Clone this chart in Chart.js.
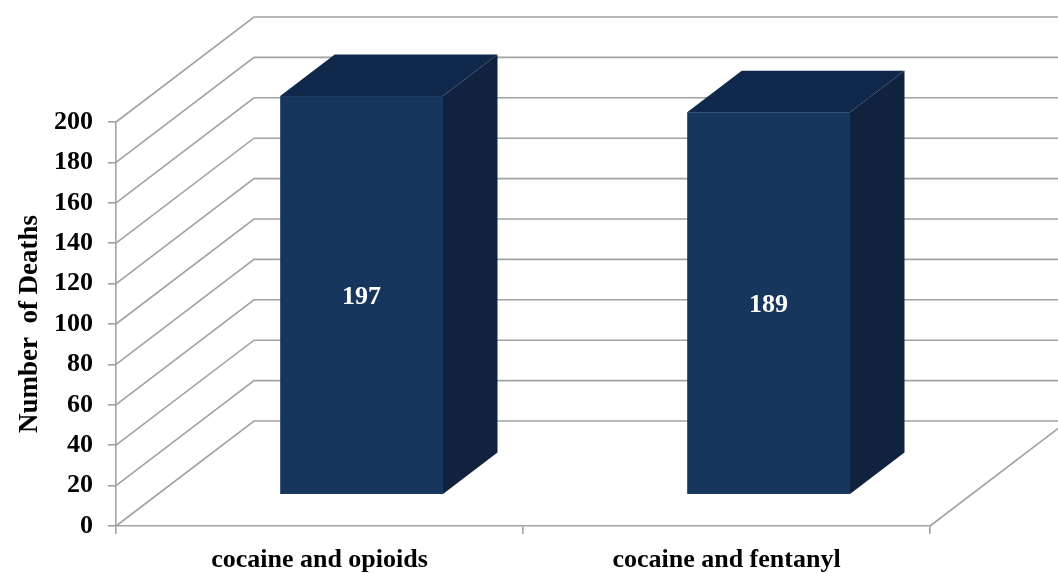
<!DOCTYPE html>
<html>
<head>
<meta charset="utf-8">
<script src="https://cdn.jsdelivr.net/npm/chart.js@4.4.1/dist/chart.umd.min.js"></script>
<style>
  html, body { margin: 0; padding: 0; background: #fff; }
  #wrap { width: 1058px; height: 573px; }
</style>
</head>
<body>
<div id="wrap"><canvas id="deathsChart" width="1058" height="573"></canvas></div>
<script>
// Data
const categories = ["cocaine and opioids", "cocaine and fentanyl"];
const deaths = [197, 189];
const yTicks = [0, 20, 40, 60, 80, 100, 120, 140, 160, 180, 200];

// Fake 3D look (Excel style): how far the back wall sits from the front plane
const DEPTH_X = 138, DEPTH_Y = 105;
const BAR_FRONT = 0.305, BAR_BACK = 0.70;   // bar depth as fraction of floor depth

const gridGray = "#a2a2a2";
const frontColor = "#17365d", sideColor = "#10223d", topColor = "#10284b";
const serif = "'Liberation Serif', 'Times New Roman', serif";

function fillPoly(ctx, pts, color) {
  ctx.beginPath();
  ctx.moveTo(pts[0][0], pts[0][1]);
  pts.slice(1).forEach(p => ctx.lineTo(p[0], p[1]));
  ctx.closePath();
  ctx.fillStyle = color;
  ctx.fill();
}

const walls3d = {
  id: "walls3d",
  // side wall + back wall gridlines, floor edge
  beforeDatasetsDraw(chart) {
    const { ctx, chartArea: a, scales: { y } } = chart;
    ctx.save();
    ctx.strokeStyle = gridGray;
    ctx.lineWidth = 1.6;
    yTicks.forEach(v => {
      const py = y.getPixelForValue(v);
      ctx.beginPath();
      ctx.moveTo(a.left, py);
      ctx.lineTo(a.left + DEPTH_X, py - DEPTH_Y);
      ctx.lineTo(a.right + DEPTH_X, py - DEPTH_Y);
      ctx.stroke();
    });
    const p0 = y.getPixelForValue(0);
    ctx.beginPath();
    ctx.moveTo(a.right, p0);
    ctx.lineTo(a.right + DEPTH_X, p0 - DEPTH_Y);
    ctx.stroke();
    ctx.restore();
  },
  // bars as boxes, using the bar elements chart.js laid out
  afterDatasetsDraw(chart) {
    const { ctx, scales: { y } } = chart;
    const meta = chart.getDatasetMeta(0);
    const base = y.getPixelForValue(0);
    const fx = DEPTH_X * BAR_FRONT, fy = DEPTH_Y * BAR_FRONT;
    const sx = DEPTH_X * (BAR_BACK - BAR_FRONT), sy = DEPTH_Y * (BAR_BACK - BAR_FRONT);
    ctx.save();
    meta.data.forEach((bar, i) => {
      const l = bar.x - bar.width / 2 + fx, r = bar.x + bar.width / 2 + fx;
      const t = y.getPixelForValue(deaths[i]) - fy, b = base - fy;
      fillPoly(ctx, [[r, t], [r + sx, t - sy], [r + sx, b - sy], [r, b]], sideColor);
      fillPoly(ctx, [[l, t], [l + sx, t - sy], [r + sx, t - sy], [r, t]], topColor);
      ctx.fillStyle = frontColor;
      ctx.fillRect(l, t, r - l, b - t);

      ctx.fillStyle = "#fff";
      ctx.font = `bold 26px ${serif}`;
      ctx.textAlign = "center";
      ctx.textBaseline = "middle";
      ctx.fillText(String(deaths[i]), (l + r) / 2, (t + b) / 2 + 2);
    });
    ctx.restore();
  }
};

new Chart(document.getElementById("deathsChart"), {
  type: "bar",
  data: {
    labels: categories,
    datasets: [{
      label: "Number of Deaths",
      data: deaths,
      backgroundColor: "rgba(0,0,0,0)",
      barPercentage: 0.4,
      categoryPercentage: 1.0
    }]
  },
  options: {
    responsive: false,
    animation: false,
    devicePixelRatio: 1,
    layout: { padding: { top: 122, right: 128, left: 0, bottom: 0 } },
    plugins: { legend: { display: false }, tooltip: { enabled: false } },
    scales: {
      x: {
        grid: { drawOnChartArea: false, tickLength: 8, color: gridGray, lineWidth: 1.6 },
        border: { color: gridGray, width: 1.6 },
        ticks: { color: "#000", padding: 11, font: { family: serif, size: 26, weight: "bold" } },
        afterFit: s => { s.height = 47; }
      },
      y: {
        min: 0,
        max: 200,
        afterBuildTicks: s => { s.ticks = yTicks.map(v => ({ value: v })); },
        grid: { drawOnChartArea: false, tickLength: 8, color: gridGray, lineWidth: 1.6 },
        border: { color: gridGray, width: 1.6 },
        ticks: { color: "#000", padding: 15, font: { family: serif, size: 26, weight: "bold" } },
        title: {
          display: true,
          text: "Number  of Deaths",
          color: "#000",
          padding: { top: 14, bottom: 0 },
          font: { family: serif, size: 27, weight: "bold" }
        },
        afterFit: s => { s.width = 116; }
      }
    }
  },
  plugins: [walls3d]
});
</script>
</body>
</html>
